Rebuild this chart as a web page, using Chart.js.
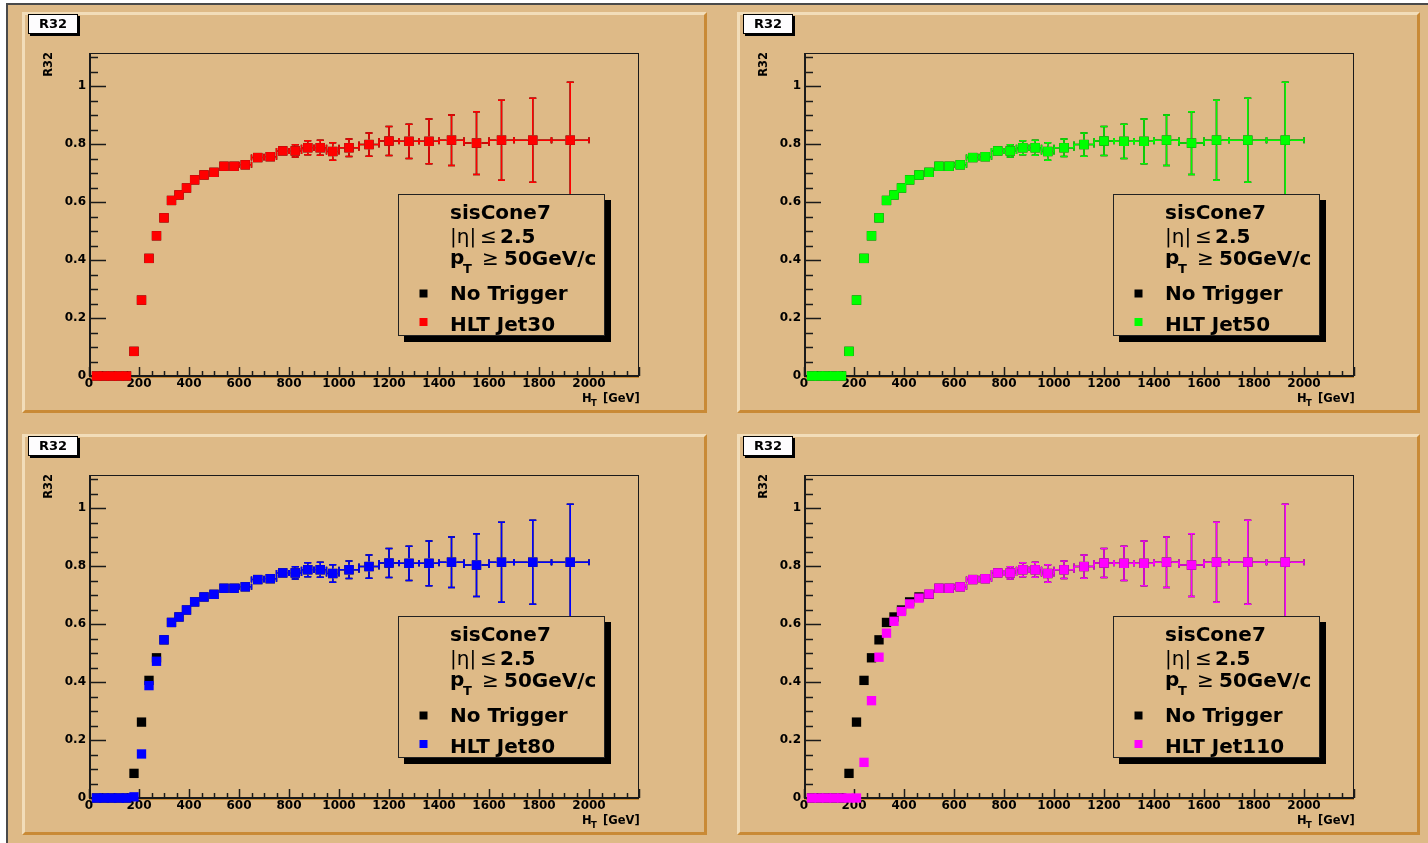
<!DOCTYPE html>
<html>
<head>
<meta charset="utf-8">
<script src="https://cdn.jsdelivr.net/npm/chart.js@4.4.1/dist/chart.umd.min.js"></script>
<style>
html, body { margin: 0; padding: 0; background: #fff; width: 1428px; height: 843px; overflow: hidden; }
#page { position: absolute; left: 6px; top: 3px; width: 1422px; height: 840px; background: #DEBA87; border-left: 2px solid #4a4a4a; border-top: 2px solid #4a4a4a; }
.pad { position: absolute; width: 685px; height: 401px; box-sizing: border-box; border: 3px solid; border-color: #F2DDB9 #C98A36 #C98A36 #F2DDB9; }
canvas { position: absolute; }
</style>
</head>
<body>
<div id="page"></div>
<div class="pad" style="left:22px;top:12px"></div>
<div class="pad" style="left:737px;top:12px;width:683px"></div>
<div class="pad" style="left:22px;top:434px"></div>
<div class="pad" style="left:737px;top:434px;width:683px"></div>
<canvas id="c1" width="685" height="401" style="left:22px;top:12px"></canvas>
<canvas id="c2" width="685" height="401" style="left:737px;top:12px"></canvas>
<canvas id="c3" width="685" height="401" style="left:22px;top:434px"></canvas>
<canvas id="c4" width="685" height="401" style="left:737px;top:434px"></canvas>
<script>
// HT bins (GeV): centres and half widths
const htBins = [30, 60, 90, 120, 150, 180, 210, 240, 270, 300, 330, 360, 390, 422.5, 460, 500, 540, 580, 625, 675, 725, 775, 825, 875, 925, 975, 1040, 1120, 1200, 1280, 1360, 1450, 1550, 1650, 1775, 1925];
const htHalfWidth = [15, 15, 15, 15, 15, 15, 15, 15, 15, 15, 15, 15, 15, 17.5, 20, 20, 20, 20, 25, 25, 25, 25, 25, 25, 25, 25, 40, 40, 40, 40, 40, 50, 50, 50, 75, 75];

const noTrigger = [0, 0, 0, 0, 0, 0.085, 0.262, 0.406, 0.484, 0.546, 0.606, 0.625, 0.649, 0.677, 0.694, 0.703, 0.724, 0.724, 0.729, 0.754, 0.757, 0.777, 0.777, 0.788, 0.788, 0.775, 0.788, 0.799, 0.811, 0.810, 0.810, 0.814, 0.804, 0.814, 0.814, 0.814];
const hltJet30 = [0, 0, 0, 0, 0, 0.085, 0.262, 0.406, 0.484, 0.546, 0.606, 0.625, 0.649, 0.677, 0.694, 0.703, 0.724, 0.724, 0.729, 0.754, 0.757, 0.777, 0.777, 0.788, 0.788, 0.775, 0.788, 0.799, 0.811, 0.810, 0.810, 0.814, 0.804, 0.814, 0.814, 0.814];
const hltJet50 = [0, 0, 0, 0, 0, 0.085, 0.262, 0.406, 0.484, 0.546, 0.606, 0.625, 0.649, 0.677, 0.694, 0.703, 0.724, 0.724, 0.729, 0.754, 0.757, 0.777, 0.777, 0.788, 0.788, 0.775, 0.788, 0.799, 0.811, 0.810, 0.810, 0.814, 0.804, 0.814, 0.814, 0.814];
const hltJet80 = [0, 0, 0, 0, 0, 0.004, 0.152, 0.388, 0.472, 0.546, 0.606, 0.625, 0.649, 0.677, 0.694, 0.703, 0.724, 0.724, 0.729, 0.754, 0.757, 0.777, 0.777, 0.788, 0.788, 0.775, 0.788, 0.799, 0.811, 0.810, 0.810, 0.814, 0.804, 0.814, 0.814, 0.814];
const hltJet110 = [0, 0, 0, 0, 0, 0, 0, 0.123, 0.336, 0.486, 0.569, 0.610, 0.644, 0.670, 0.690, 0.704, 0.724, 0.724, 0.729, 0.754, 0.757, 0.777, 0.777, 0.788, 0.788, 0.775, 0.788, 0.799, 0.811, 0.810, 0.810, 0.814, 0.804, 0.814, 0.814, 0.814];
const r32Err = [0, 0, 0, 0, 0, 0.005, 0.006, 0.006, 0.007, 0.007, 0.008, 0.008, 0.009, 0.009, 0.009, 0.010, 0.011, 0.012, 0.013, 0.014, 0.015, 0.016, 0.021, 0.024, 0.026, 0.030, 0.030, 0.040, 0.050, 0.059, 0.077, 0.087, 0.108, 0.138, 0.145, 0.200];

const xTicks = [0, 200, 400, 600, 800, 1000, 1200, 1400, 1600, 1800, 2000];
const yTicks = [0, 0.2, 0.4, 0.6, 0.8, 1];

const FONT = "'DejaVu Sans', sans-serif";
const MARK = 5; // half size of square markers, px

const panels = [
    { id: 'c1', label: 'HLT Jet30', color: '#ff0000', values: hltJet30 },
    { id: 'c2', label: 'HLT Jet50', color: '#00ff00', values: hltJet50 },
    { id: 'c3', label: 'HLT Jet80', color: '#0000ff', values: hltJet80 },
    { id: 'c4', label: 'HLT Jet110', color: '#ff00ff', values: hltJet110 }
];

function textWithSub(ctx, x, y, main, sub, size, subSize, subDx, subDy) {
    ctx.font = 'bold ' + size + 'px ' + FONT;
    ctx.fillText(main, x, y);
    ctx.font = 'bold ' + subSize + 'px ' + FONT;
    ctx.fillText(sub, x + subDx, y + subDy);
}

function makeRootPlugin(p) {
    return {
        id: 'rootStyle',
        beforeDatasetsDraw(chart) {
            const ctx = chart.ctx;
            const a = chart.chartArea;
            const xs = chart.scales.x;
            const ys = chart.scales.y;
            ctx.save();
            ctx.strokeStyle = '#1a1a1a';
            ctx.lineWidth = 1;
            ctx.strokeRect(a.left + 0.5, a.top + 0.5, a.right - a.left - 1, a.bottom - a.top);

            // y axis ticks, pointing inwards
            ctx.lineWidth = 1.5;
            for (let i = 0; i * 0.05 <= 1.111; i++) {
                const py = Math.round(ys.getPixelForValue(i * 0.05)) + 0.5;
                const len = i % 4 === 0 ? 17 : 9;
                ctx.beginPath();
                ctx.moveTo(a.left, py);
                ctx.lineTo(a.left + len, py);
                ctx.stroke();
            }
            // x axis ticks
            for (let i = 0; i * 50 <= 2200; i++) {
                const px = Math.round(xs.getPixelForValue(i * 50)) + 0.5;
                const len = i % 4 === 0 ? 9 : 5;
                ctx.beginPath();
                ctx.moveTo(px, a.bottom);
                ctx.lineTo(px, a.bottom - len);
                ctx.stroke();
            }
            // axis lines
            ctx.lineWidth = 2;
            ctx.beginPath();
            ctx.moveTo(a.left + 1, a.top);
            ctx.lineTo(a.left + 1, a.bottom);
            ctx.stroke();
            ctx.beginPath();
            ctx.moveTo(a.left, a.bottom);
            ctx.lineTo(a.right, a.bottom);
            ctx.stroke();
            ctx.strokeStyle = '#C98A36';
            ctx.lineWidth = 1;
            ctx.beginPath();
            ctx.moveTo(a.left, a.bottom + 1.5);
            ctx.lineTo(a.right, a.bottom + 1.5);
            ctx.stroke();
            ctx.restore();
        },
        beforeDatasetDraw(chart, args) {
            const ds = chart.data.datasets[args.index];
            const meta = args.meta;
            const xs = chart.scales.x;
            const ys = chart.scales.y;
            const ctx = chart.ctx;
            ctx.save();
            ctx.strokeStyle = ds.backgroundColor;
            ctx.lineWidth = 1.5;
            meta.data.forEach((pt, i) => {
                const v = ds.yVals[i];
                const e = ds.yErr[i];
                const px = pt.x;
                const py = pt.y;
                // horizontal error bar
                const xl = xs.getPixelForValue(htBins[i] - htHalfWidth[i]);
                const xr = xs.getPixelForValue(htBins[i] + htHalfWidth[i]);
                if (px - xl > MARK + 0.5) {
                    ctx.beginPath();
                    ctx.moveTo(xl, py); ctx.lineTo(px - MARK, py);
                    ctx.moveTo(px + MARK, py); ctx.lineTo(xr, py);
                    ctx.moveTo(xl, py - 3); ctx.lineTo(xl, py + 3);
                    ctx.moveTo(xr, py - 3); ctx.lineTo(xr, py + 3);
                    ctx.stroke();
                }
                if (e > 0) {
                    const yt = ys.getPixelForValue(v + e);
                    const yb = ys.getPixelForValue(v - e);
                    if (py - yt > MARK) {
                        ctx.beginPath();
                        ctx.moveTo(px, yt); ctx.lineTo(px, py - MARK);
                        ctx.moveTo(px, py + MARK); ctx.lineTo(px, yb);
                        ctx.moveTo(px - 3.5, yt); ctx.lineTo(px + 3.5, yt);
                        ctx.moveTo(px - 3.5, yb); ctx.lineTo(px + 3.5, yb);
                        ctx.stroke();
                    }
                }
            });
            ctx.restore();
        },
        afterDraw(chart) {
            const ctx = chart.ctx;
            const a = chart.chartArea;
            ctx.save();
            ctx.fillStyle = '#000';

            // title box
            ctx.fillRect(8, 4, 50, 20);
            ctx.fillStyle = '#fdfcfd';
            ctx.fillRect(6, 2, 50, 20);
            ctx.strokeStyle = '#000';
            ctx.lineWidth = 1;
            ctx.strokeRect(6.5, 2.5, 49, 19);
            ctx.fillStyle = '#000';
            ctx.font = 'bold 13px ' + FONT;
            ctx.textAlign = 'center';
            ctx.textBaseline = 'middle';
            ctx.fillText('R32', 31, 13);

            // axis titles
            ctx.save();
            ctx.translate(30, a.top - 1);
            ctx.rotate(-Math.PI / 2);
            ctx.textAlign = 'right';
            ctx.textBaseline = 'alphabetic';
            ctx.font = 'bold 11.5px ' + FONT;
            ctx.fillText('R32', 0, 0);
            ctx.restore();

            ctx.textAlign = 'left';
            ctx.textBaseline = 'alphabetic';
            const hx = a.right - 57;
            textWithSub(ctx, hx, 390, 'H', 'T', 11.5, 8.5, 9, 4);
            ctx.font = 'bold 11.5px ' + FONT;
            ctx.fillText('[GeV]', hx + 21, 390);

            // legend box with shadow
            const lx = 376, ly = 182, lw = 207, lh = 142;
            ctx.fillStyle = '#000';
            ctx.fillRect(lx + 6, ly + 6, lw, lh);
            ctx.fillStyle = '#DEBA87';
            ctx.fillRect(lx, ly, lw, lh);
            ctx.strokeStyle = '#222';
            ctx.lineWidth = 1;
            ctx.strokeRect(lx + 0.5, ly + 0.5, lw - 1, lh - 1);

            const tx = 428;
            ctx.fillStyle = '#000';
            ctx.font = 'bold 20px ' + FONT;
            ctx.fillText('sisCone7', tx, 207);

            ctx.font = '20px ' + FONT;
            ctx.fillText('|\u03b7|', tx, 231);
            ctx.fillText('\u2264', tx + 30, 231);
            ctx.font = 'bold 20px ' + FONT;
            ctx.fillText('2.5', tx + 50, 231);

            textWithSub(ctx, tx, 252, 'p', 'T', 20, 13, 13, 9);
            ctx.font = '20px ' + FONT;
            ctx.fillText('\u2265', tx + 32, 253);
            ctx.font = 'bold 20px ' + FONT;
            ctx.fillText('50GeV/c', tx + 54, 253);

            ctx.fillText('No Trigger', tx, 288);
            ctx.fillText(p.label, tx, 319);

            ctx.fillStyle = '#000';
            ctx.fillRect(397.5, 277.5, 8, 8);
            ctx.fillStyle = p.color;
            ctx.fillRect(397.5, 306, 8, 8);
            ctx.restore();
        }
    };
}

function makePanel(p) {
    const tickFont = { family: FONT, weight: 'bold', size: 12 };
    new Chart(document.getElementById(p.id), {
        type: 'scatter',
        data: {
            datasets: [
                {
                    label: p.label,
                    data: htBins.map((x, i) => ({ x: x, y: p.values[i] })),
                    yVals: p.values,
                    yErr: r32Err,
                    backgroundColor: p.color,
                    borderWidth: 0,
                    pointStyle: 'rect',
                    pointRadius: 6.6,
                    clip: false,
                    order: 0
                },
                {
                    label: 'No Trigger',
                    data: htBins.map((x, i) => ({ x: x, y: noTrigger[i] })),
                    yVals: noTrigger,
                    yErr: r32Err,
                    backgroundColor: '#000000',
                    borderWidth: 0,
                    pointStyle: 'rect',
                    pointRadius: 6.6,
                    clip: false,
                    order: 1
                }
            ]
        },
        options: {
            responsive: false,
            animation: false,
            events: [],
            layout: { padding: { left: 0, top: 41, right: 68, bottom: 0 } },
            plugins: {
                legend: { display: false },
                tooltip: { enabled: false }
            },
            scales: {
                x: {
                    type: 'linear',
                    min: 0,
                    max: 2200,
                    afterFit(s) { s.height = 37; },
                    afterBuildTicks(s) { s.ticks = xTicks.map(v => ({ value: v })); },
                    grid: { display: false, drawTicks: false },
                    border: { display: false },
                    ticks: {
                        padding: 1,
                        color: '#000',
                        font: tickFont,
                        maxRotation: 0,
                        autoSkip: false,
                        callback: v => String(v)
                    }
                },
                y: {
                    type: 'linear',
                    min: 0,
                    max: 1.115,
                    afterFit(s) { s.width = 67; },
                    afterBuildTicks(s) { s.ticks = yTicks.map(v => ({ value: v })); },
                    grid: { display: false, drawTicks: false },
                    border: { display: false },
                    ticks: {
                        padding: 3,
                        color: '#000',
                        font: tickFont,
                        autoSkip: false,
                        callback: v => String(Math.round(v * 10) / 10)
                    }
                }
            }
        },
        plugins: [makeRootPlugin(p)]
    });
}

panels.forEach(makePanel);
</script>
</body>
</html>
